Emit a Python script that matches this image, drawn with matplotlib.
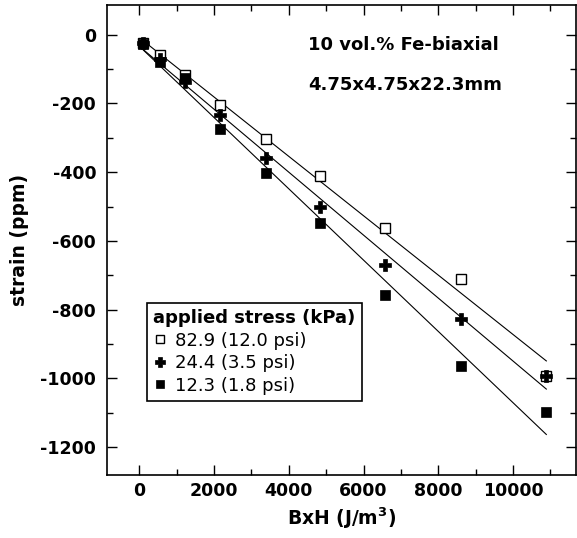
import numpy as np
import matplotlib
matplotlib.use('Agg')
import matplotlib.pyplot as plt
from matplotlib.ticker import MultipleLocator

# B x H values (J/m^3)
bxh = [110, 553, 1222, 2158, 3380, 4845, 6570, 8600, 10890]

# strain (ppm) for each applied stress
strain_829 = [-25, -59, -117, -204, -304, -411, -563, -711, -992]
strain_244 = [-25, -70, -137, -233, -358, -500, -670, -827, -992]
strain_123 = [-27, -80, -127, -274, -401, -549, -757, -964, -1097]

labels = ['82.9 (12.0 psi)', '24.4 (3.5 psi)', '12.3 (1.8 psi)']

plt.rcParams['font.family'] = ['DejaVu Sans']
plt.rcParams['axes.unicode_minus'] = False

fig = plt.figure(figsize=(5.77, 5.38), dpi=100)
ax = fig.add_axes([0.186, 0.117, 0.812, 0.874])

x = np.array(bxh)
series = [strain_829, strain_244, strain_123]
styles = [dict(marker='s', mfc='white', mec='black', ms=6.5, mew=1.0),
          dict(marker='P', mfc='black', mec='black', ms=8.5, mew=0.5),
          dict(marker='s', mfc='black', mec='black', ms=7, mew=0.5)]

handles = []
for ys, st, lab in zip(series, styles, labels):
    ys = np.array(ys)
    # linear fit through each set
    k, b = np.polyfit(x, ys, 1)
    ax.plot([x[0], x[-1]], [k * x[0] + b, k * x[-1] + b], color='black', lw=0.8, zorder=1)
    h, = ax.plot(x, ys, ls='none', zorder=3, label=lab, **st)
    handles.append(h)

ax.set_xlim(-856, 11680)
ax.set_ylim(-1281, 87)
ax.xaxis.set_major_locator(MultipleLocator(2000))
ax.xaxis.set_minor_locator(MultipleLocator(1000))
ax.yaxis.set_major_locator(MultipleLocator(200))
ax.yaxis.set_minor_locator(MultipleLocator(100))
ax.tick_params(which='both', direction='in', top=True, right=True, width=1)
ax.tick_params(which='major', length=7.5, labelsize=12.5)
ax.tick_params(axis='x', which='major', pad=5)
ax.tick_params(axis='y', which='major', pad=8)
ax.tick_params(which='minor', length=4)
for lab in ax.get_xticklabels() + ax.get_yticklabels():
    lab.set_fontweight('bold')
for s in ax.spines.values():
    s.set_linewidth(1.2)

ax.set_xlabel('BxH (J/m$^\\mathbf{3}$)', fontsize=13.5, fontweight='bold', labelpad=4)
ax.set_ylabel('strain (ppm)', fontsize=13.5, fontweight='bold', labelpad=8)

ax.text(4520, -30, '10 vol.% Fe-biaxial', fontsize=13, fontweight='bold', va='center', ha='left')
ax.text(4520, -145, '4.75x4.75x22.3mm', fontsize=13, fontweight='bold', va='center', ha='left')

leg = ax.legend(handles=handles, title='applied stress (kPa)', loc='upper left',
                bbox_to_anchor=(146.7 / 577, 1 - 302.7 / 538), bbox_transform=fig.transFigure,
                fontsize=13, title_fontproperties={'weight': 'bold', 'size': 13},
                fancybox=False, edgecolor='black', framealpha=1, handletextpad=0.4,
                handlelength=0.8, borderpad=0.35, labelspacing=0.25, markerscale=0.8,
                alignment='left', borderaxespad=0)
leg.get_frame().set_linewidth(1.2)

fig.savefig('out.png', dpi=100)
